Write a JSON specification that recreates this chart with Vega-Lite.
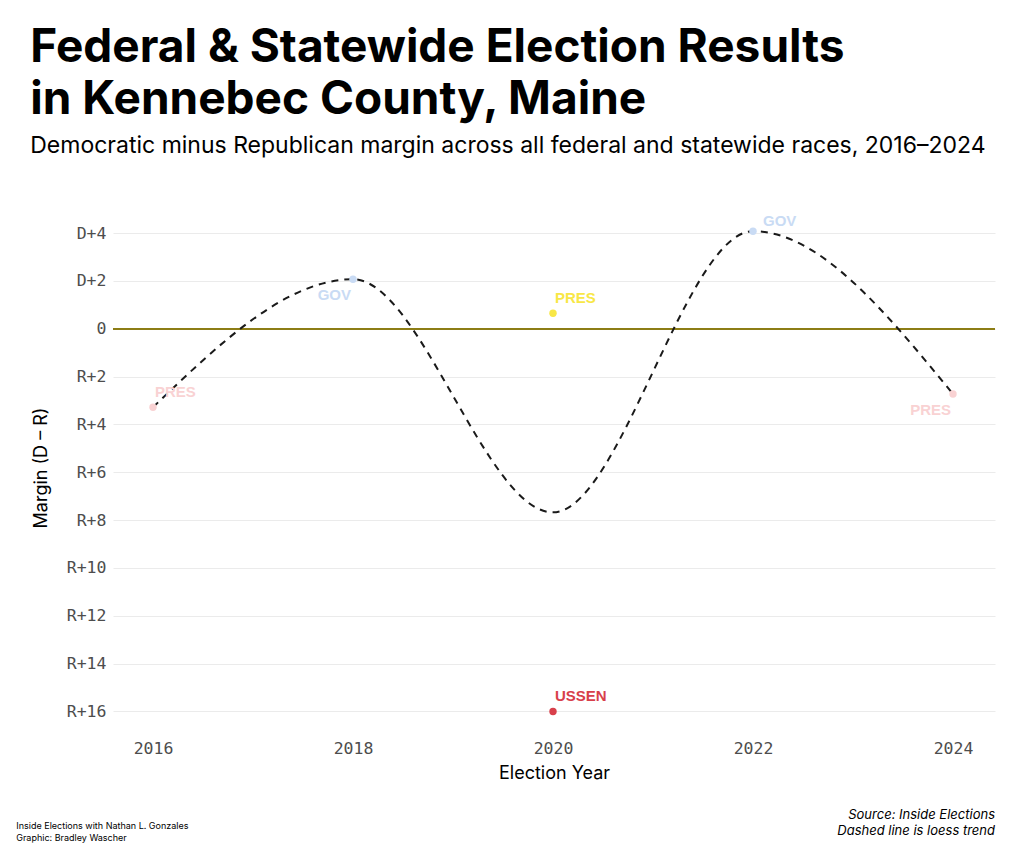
{
  "$schema": "https://vega.github.io/schema/vega-lite/v6.json",
  "background": "white",
  "padding": {"left": 16, "top": 25, "right": 29, "bottom": 8},
  "config": {"view": {"stroke": null}, "font": "Inter"},
  "title": {
    "text": ["Federal & Statewide Election Results", "in Kennebec County, Maine"],
    "subtitle": "Democratic minus Republican margin across all federal and statewide races, 2016–2024",
    "anchor": "start",
    "frame": "bounds",
    "dx": 14,
    "font": "Inter",
    "fontSize": 46,
    "fontWeight": "bold",
    "lineHeight": 52,
    "color": "#000000",
    "subtitleFont": "Inter",
    "subtitleFontSize": 23,
    "subtitleColor": "#000000",
    "subtitlePadding": 11,
    "offset": 43
  },
  "datasets": {
    "races": [
      {"year": 2016, "race": "PRES", "margin": -3.28, "key": "2016 PRES", "side": "above"},
      {"year": 2018, "race": "GOV", "margin": 2.07, "key": "2018 GOV", "side": "below"},
      {"year": 2020, "race": "PRES", "margin": 0.65, "key": "2020 PRES", "side": "above"},
      {"year": 2020, "race": "USSEN", "margin": -16.0, "key": "2020 USSEN", "side": "above"},
      {"year": 2022, "race": "GOV", "margin": 4.08, "key": "2022 GOV", "side": "right"},
      {"year": 2024, "race": "PRES", "margin": -2.73, "key": "2024 PRES", "side": "below"}
    ]
  },
  "vconcat": [
    {
      "title": {
        "text": ["Inside Elections with Nathan L. Gonzales", "Graphic: Bradley Wascher"],
        "orient": "bottom",
        "anchor": "start",
        "frame": "bounds",
        "dx": -16,
        "offset": -16,
        "font": "Inter",
        "fontSize": 9,
        "fontWeight": "normal",
        "lineHeight": 12,
        "color": "#000000"
      },
      "vconcat": [
        {
          "title": {
            "text": ["Source: Inside Elections", "Dashed line is loess trend"],
            "orient": "bottom",
            "anchor": "end",
            "frame": "group",
            "offset": 26,
            "font": "Inter",
            "fontSize": 13,
            "fontStyle": "italic",
            "fontWeight": "normal",
            "lineHeight": 16,
            "color": "#000000"
          },
          "width": 882,
          "height": 531,
          "data": {"name": "races"},
          "encoding": {
            "x": {
              "field": "year",
              "type": "quantitative",
              "scale": {"domain": [2015.6, 2024.42], "nice": false, "zero": false},
              "title": "Election Year",
              "axis": {
                "values": [2016, 2018, 2020, 2022, 2024],
                "format": "d",
                "grid": false,
                "domain": false,
                "ticks": false,
                "labelPadding": 7,
                "labelFont": "DejaVu Sans Mono",
                "labelFontSize": 16.5,
                "labelColor": "#4d4d4d",
                "titleFont": "Inter",
                "titleFontSize": 18,
                "titleFontWeight": "normal",
                "titleColor": "#000000",
                "titlePadding": 8
              }
            },
            "y": {
              "field": "margin",
              "type": "quantitative",
              "scale": {"domain": [-16.9, 5.3], "nice": false, "zero": false},
              "title": "Margin (D – R)",
              "axis": {
                "values": [-16, -14, -12, -10, -8, -6, -4, -2, 0, 2, 4],
                "labelExpr": "datum.value > 0 ? 'D+' + datum.value : (datum.value < 0 ? 'R+' + (-datum.value) : '0')",
                "grid": true,
                "gridColor": "#ebebeb",
                "gridWidth": 1.2,
                "domain": false,
                "ticks": false,
                "labelPadding": 7,
                "labelFont": "DejaVu Sans Mono",
                "labelFontSize": 16.5,
                "labelColor": "#4d4d4d",
                "titleFont": "Inter",
                "titleFontSize": 18,
                "titleFontWeight": "normal",
                "titleColor": "#000000",
                "titlePadding": 16
              }
            }
          },
          "layer": [
            {
              "mark": {"type": "rule", "color": "#8c7d14", "strokeWidth": 1.6},
              "encoding": {"x": {"value": 0}, "x2": {"value": 882}, "y": {"datum": 0}}
            },
            {
              "transform": [
                {"aggregate": [{"op": "mean", "field": "margin", "as": "margin"}], "groupby": ["year"]}
              ],
              "mark": {"type": "line", "interpolate": "monotone", "color": "#1a1a1a", "strokeWidth": 2, "strokeDash": [7, 6]}
            },
            {
              "mark": {"type": "circle", "size": 55, "opacity": 1},
              "encoding": {
                "color": {
                  "field": "key",
                  "type": "nominal",
                  "scale": {
                    "domain": ["2016 PRES", "2018 GOV", "2020 PRES", "2020 USSEN", "2022 GOV", "2024 PRES"],
                    "range": ["#f9d2d3", "#c9dbf4", "#f8e746", "#d8404b", "#c9dbf4", "#f9d2d3"]
                  },
                  "legend": null
                }
              }
            },
            {
              "transform": [{"filter": "datum.side == 'above'"}],
              "mark": {"type": "text", "align": "left", "baseline": "middle", "dx": 2, "dy": -15, "font": "Liberation Sans", "fontSize": 15, "fontWeight": "bold"},
              "encoding": {"text": {"field": "race"}, "color": {"field": "key", "type": "nominal", "legend": null}}
            },
            {
              "transform": [{"filter": "datum.side == 'right'"}],
              "mark": {"type": "text", "align": "left", "baseline": "middle", "dx": 10, "dy": -10, "font": "Liberation Sans", "fontSize": 15, "fontWeight": "bold"},
              "encoding": {"text": {"field": "race"}, "color": {"field": "key", "type": "nominal", "legend": null}}
            },
            {
              "transform": [{"filter": "datum.side == 'below'"}],
              "mark": {"type": "text", "align": "right", "baseline": "middle", "dx": -2, "dy": 16, "font": "Liberation Sans", "fontSize": 15, "fontWeight": "bold"},
              "encoding": {"text": {"field": "race"}, "color": {"field": "key", "type": "nominal", "legend": null}}
            }
          ]
        }
      ]
    }
  ]
}
